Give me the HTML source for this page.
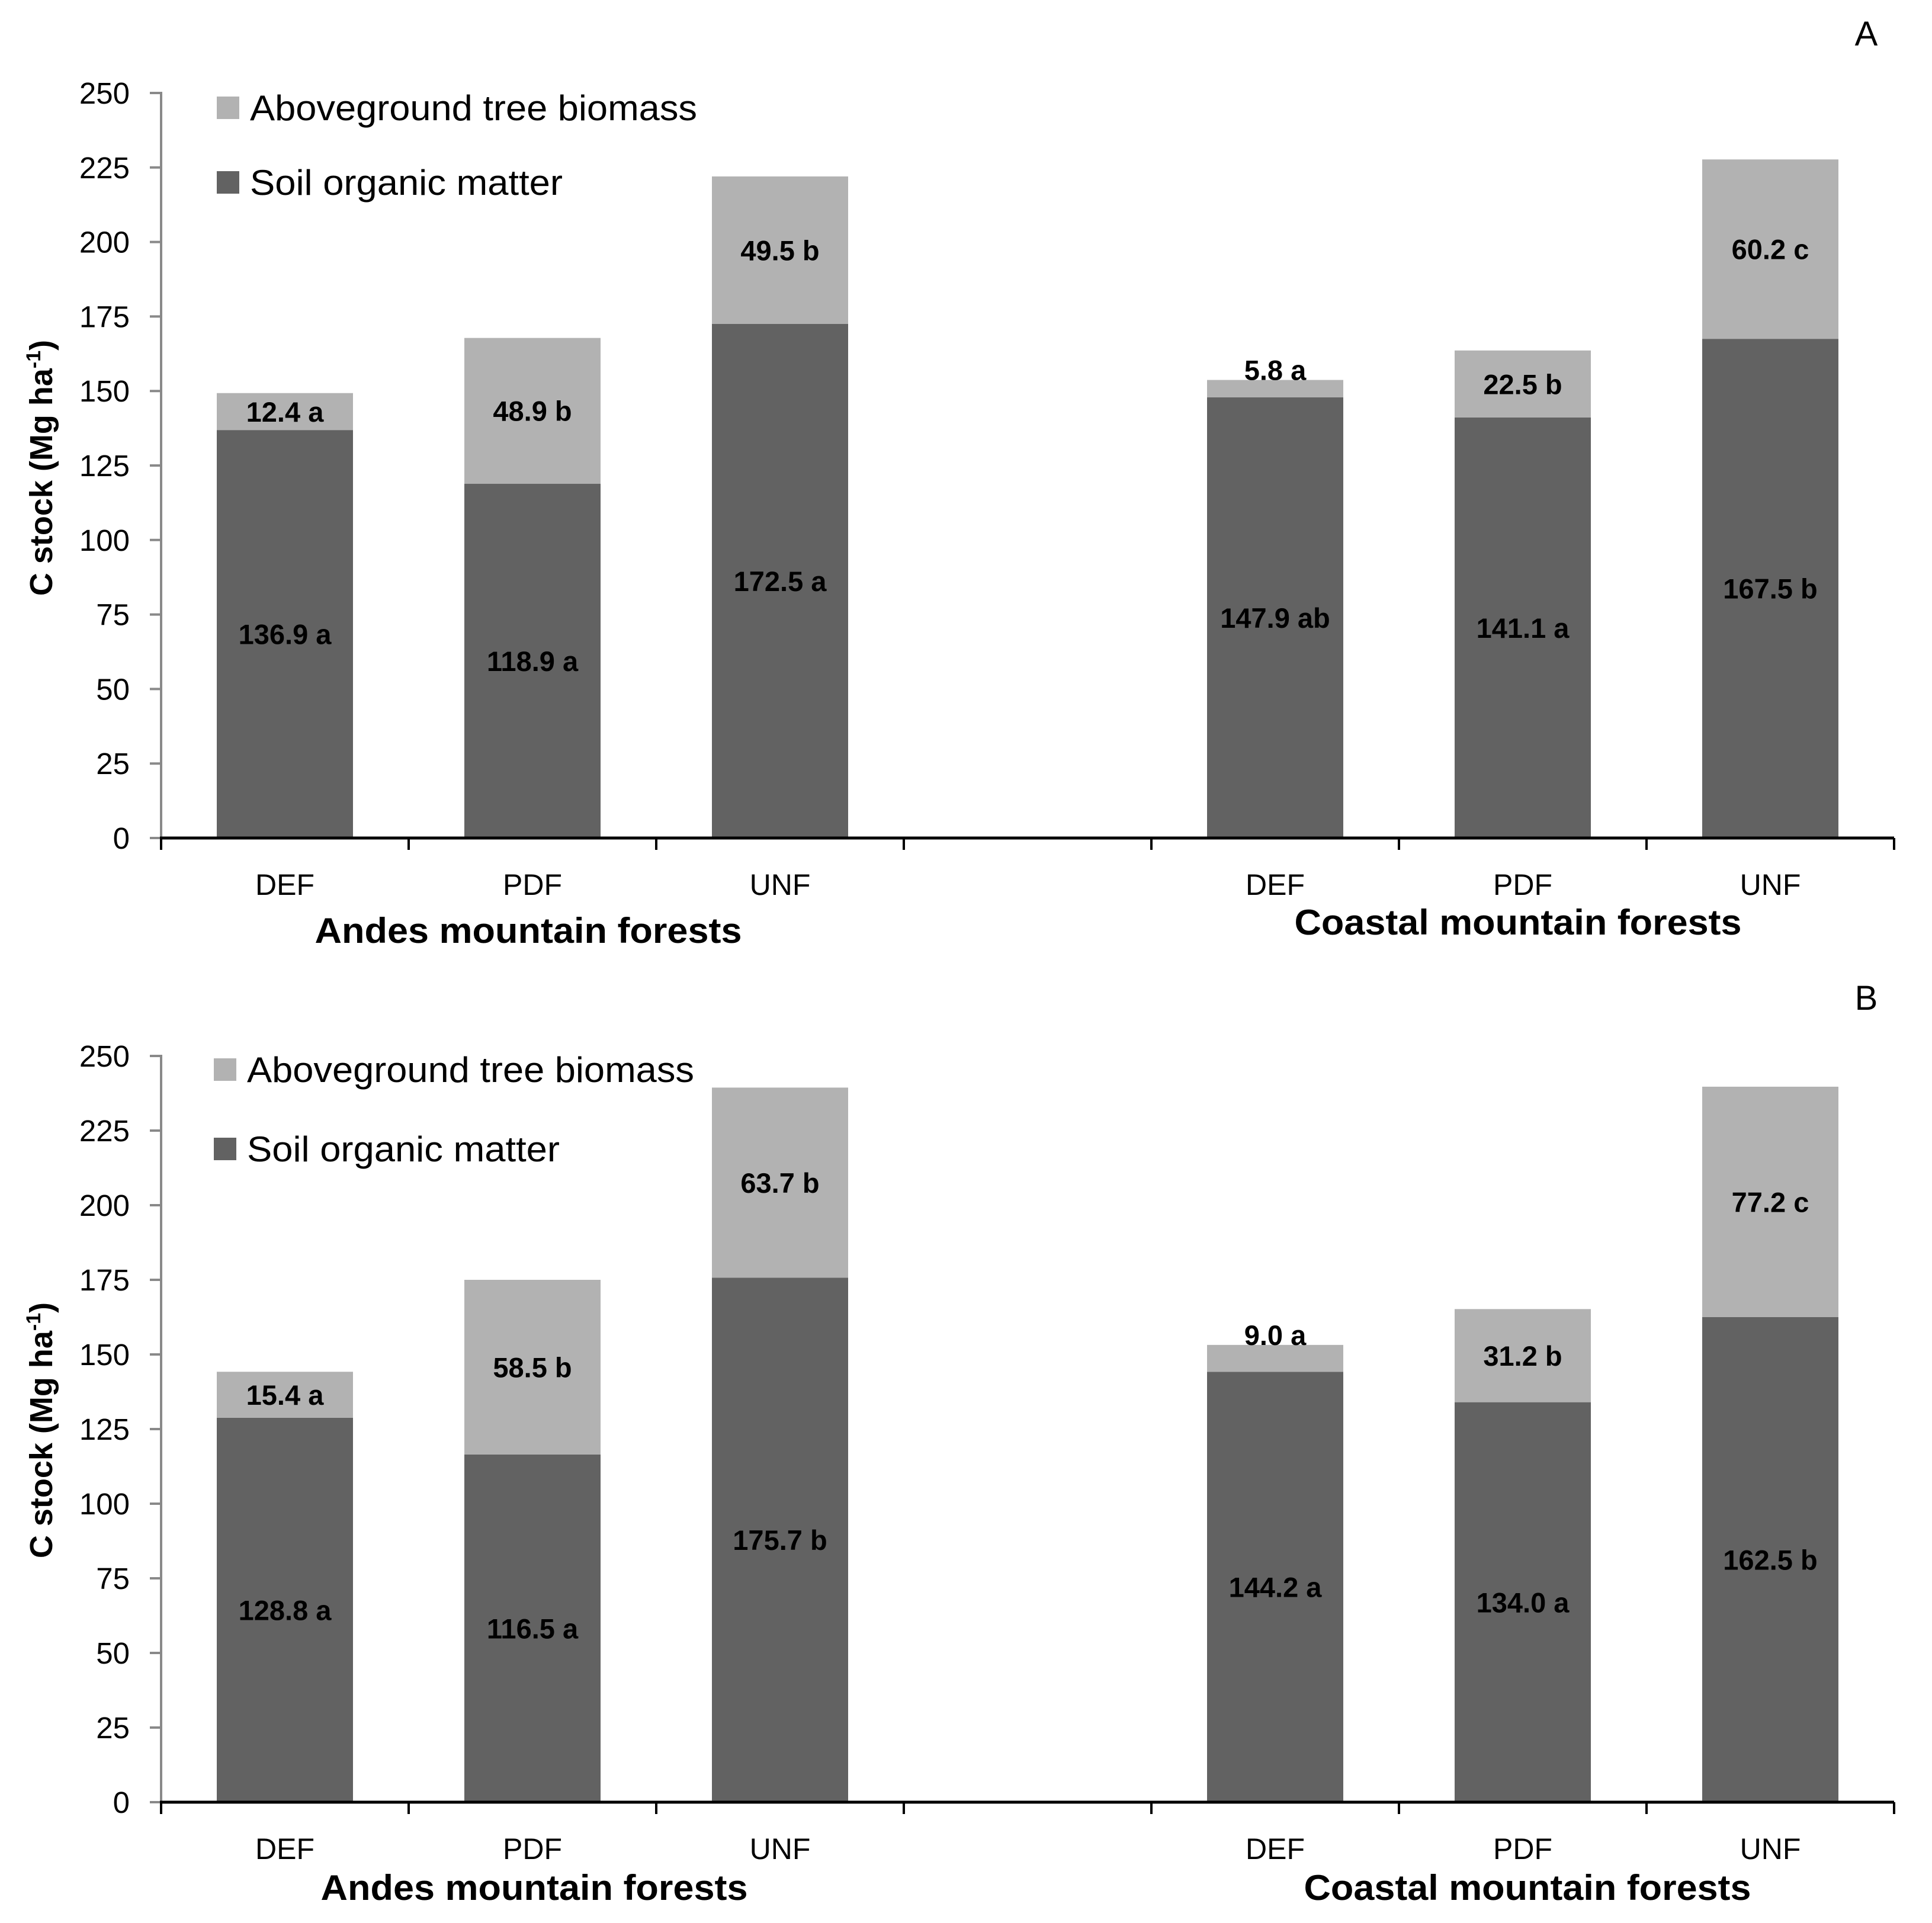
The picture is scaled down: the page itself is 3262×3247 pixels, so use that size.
<!DOCTYPE html>
<html><head><meta charset="utf-8"><style>
html,body{margin:0;padding:0;background:#fff;}
svg{display:block;font-family:"Liberation Sans",sans-serif;}
</style></head><body>
<svg id="chart" width="3262" height="3247" viewBox="0 0 3262 3247" xmlns="http://www.w3.org/2000/svg"></svg>
<script>
const categories = ["DEF","PDF","UNF","","DEF","PDF","UNF"];
const groupLabels = ["Andes mountain forests","Coastal mountain forests"];
const yTicks = [0,25,50,75,100,125,150,175,200,225,250];
const soilA = [136.9,118.9,172.5,null,147.9,141.1,167.5];
const agbA  = [12.4,48.9,49.5,null,5.8,22.5,60.2];
const soilLabelsA = ["136.9 a","118.9 a","172.5 a","","147.9 ab","141.1 a","167.5 b"];
const agbLabelsA  = ["12.4 a","48.9 b","49.5 b","","5.8 a","22.5 b","60.2 c"];
const soilB = [128.8,116.5,175.7,null,144.2,134.0,162.5];
const agbB  = [15.4,58.5,63.7,null,9.0,31.2,77.2];
const soilLabelsB = ["128.8 a","116.5 a","175.7 b","","144.2 a","134.0 a","162.5 b"];
const agbLabelsB  = ["15.4 a","58.5 b","63.7 b","","9.0 a","31.2 b","77.2 c"];

const NS="http://www.w3.org/2000/svg";
const svg=document.getElementById('chart');
function mk(tag,attrs,parent){const e=document.createElementNS(NS,tag);for(const k in attrs)e.setAttribute(k,attrs[k]);(parent||svg).appendChild(e);return e;}

const X0=272, SLOT=418, BARW=230;
function xCenter(i){return X0+SLOT*i+SLOT/2;}

function panel(cfg){
  const g=mk('g',{});
  
  
  const y=v=>cfg.y0-(v/250)*(cfg.y0-cfg.y250);
  const ya=mk('line',{x1:X0,y1:cfg.y250-2,x2:X0,y2:cfg.y0,stroke:'#898989','stroke-width':4},g);
  
  
  yTicks.forEach(t=>{
    const tk=mk('line',{x1:253,y1:y(t),x2:X0,y2:y(t),stroke:'#898989','stroke-width':4},g);
    
    
    const tl=mk('text',{x:219,y:y(t)+18,'text-anchor':'end','font-size':51,fill:'#000'},g);
    tl.textContent=t;
    
    
  });
  categories.forEach((c,i)=>{
    if(cfg.soil[i]==null)return;
    const xc=xCenter(i), s=cfg.soil[i], a=cfg.agb[i];
    const sb=mk('rect',{x:xc-BARW/2,y:y(s),width:BARW,height:y(0)-y(s),fill:'#626262'},g);
    
    
    const ab=mk('rect',{x:xc-BARW/2,y:y(s+a),width:BARW,height:y(s)-y(s+a),fill:'#b2b2b2'},g);
    
    
    const sl=mk('text',{x:xc,y:y(s/2)+17,'text-anchor':'middle','font-size':47,'font-weight':'bold',fill:'#000'},g);
    sl.textContent=cfg.soilLabels[i];
    
    
    let ly = a<10 ? y(s+a)-17 : y(s+a/2);
    const al=mk('text',{x:xc,y:ly+17,'text-anchor':'middle','font-size':47,'font-weight':'bold',fill:'#000'},g);
    al.textContent=cfg.agbLabels[i];
    
    
  });
  const xa=mk('line',{x1:X0-2,y1:cfg.y0,x2:X0+SLOT*7,y2:cfg.y0,stroke:'#000','stroke-width':5},g);
  
  
  for(let k=0;k<=7;k++){
    const t=mk('line',{x1:X0+SLOT*k,y1:cfg.y0,x2:X0+SLOT*k,y2:cfg.y0+20,stroke:'#000','stroke-width':4},g);
    
    
  }
  categories.forEach((c,i)=>{
    if(!c)return;
    const t=mk('text',{x:xCenter(i),y:cfg.y0+96,'text-anchor':'middle','font-size':50,fill:'#000'},g);
    t.textContent=c;
    
    
  });
  cfg.groups.forEach((gp,j)=>{
    const t=mk('text',{x:gp.x,y:gp.y,'text-anchor':'middle','font-size':60,'font-weight':'bold',fill:'#000',textLength:gp.w,lengthAdjust:'spacingAndGlyphs'},g);
    t.textContent=groupLabels[j];
    
    
  });
  const yt=mk('text',{x:0,y:0,'text-anchor':'middle','font-size':54,'font-weight':'bold',fill:'#000',transform:`translate(88,${cfg.ytc}) rotate(-90)`},g);
  yt.innerHTML='C stock (Mg ha<tspan dy="-20" font-size="34">-1</tspan><tspan dy="20">)</tspan>';
  
  
  const l1=mk('rect',{x:cfg.lx,y:cfg.l1y-19,width:38,height:38,fill:'#b2b2b2'},g);
  
  
  const t1=mk('text',{x:cfg.lx+56,y:cfg.l1y+21,'font-size':60,fill:'#000',textLength:755,lengthAdjust:'spacingAndGlyphs'},g);
  t1.textContent='Aboveground tree biomass';
  
  
  const l2=mk('rect',{x:cfg.lx,y:cfg.l2y-19,width:38,height:38,fill:'#626262'},g);
  
  
  const t2=mk('text',{x:cfg.lx+56,y:cfg.l2y+21,'font-size':60,fill:'#000',textLength:528,lengthAdjust:'spacingAndGlyphs'},g);
  t2.textContent='Soil organic matter';
  
  
  const pl=mk('text',{x:3151,y:cfg.py,'text-anchor':'middle','font-size':58,fill:'#000'},g);
  pl.textContent=cfg.id;
  
  
}
panel({id:'A',y0:1415,y250:157,soil:soilA,agb:agbA,soilLabels:soilLabelsA,agbLabels:agbLabelsA,
  groups:[{x:892,y:1592,w:721},{x:2563,y:1578,w:755}],ytc:790,lx:366,l1y:182,l2y:308,py:77});
panel({id:'B',y0:3043,y250:1783,soil:soilB,agb:agbB,soilLabels:soilLabelsB,agbLabels:agbLabelsB,
  groups:[{x:902,y:3208,w:721},{x:2579,y:3208,w:755}],ytc:2415,lx:361,l1y:1806,l2y:1940,py:1705});
</script>
</body></html>
